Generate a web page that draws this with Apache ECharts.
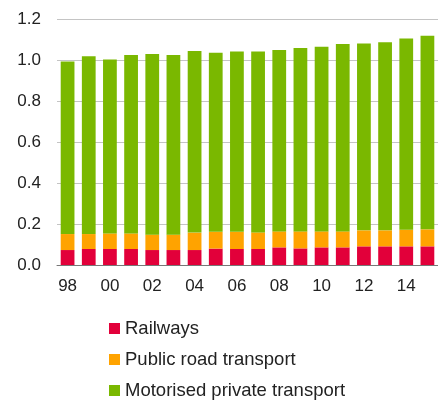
<!DOCTYPE html>
<html>
<head>
<meta charset="utf-8">
<script src="https://cdn.jsdelivr.net/npm/echarts@6/dist/echarts.min.js"></script>
<style>
  html, body { margin: 0; padding: 0; background: #fff; }
  #chart { width: 438px; height: 401px; }
</style>
</head>
<body>
<div id="chart"></div>
<script>
// years shown as two digits on the axis
var years = ['98', '99', '00', '01', '02', '03', '04', '05', '06',
             '07', '08', '09', '10', '11', '12', '13', '14', '15'];

var railways = [0.073, 0.078, 0.078, 0.078, 0.073, 0.073, 0.073, 0.080, 0.078,
                0.078, 0.086, 0.081, 0.086, 0.086, 0.091, 0.091, 0.091, 0.091];
var publicRoad = [0.078, 0.073, 0.076, 0.076, 0.075, 0.075, 0.085, 0.082, 0.084,
                  0.081, 0.078, 0.083, 0.078, 0.078, 0.078, 0.078, 0.081, 0.083];
var privateMotor = [0.842, 0.867, 0.849, 0.870, 0.881, 0.876, 0.886, 0.873, 0.880,
                    0.883, 0.885, 0.895, 0.901, 0.914, 0.912, 0.917, 0.933, 0.944];

var myChart = echarts.init(document.getElementById('chart'));

var font = 'Liberation Sans, Arial, sans-serif';

function barSeries(name, data, color) {
    return {
        name: name,
        type: 'bar',
        stack: 'total',
        barWidth: '65%',
        data: data,
        itemStyle: { color: color },
        emphasis: { disabled: true }
    };
}

var option = {
    animation: false,
    textStyle: { fontFamily: font },
    grid: { left: 57, top: 19, bottom: 136, width: 384 },
    legend: {
        orient: 'vertical',
        left: 109,
        top: 319,
        padding: 0,
        itemWidth: 11,
        itemHeight: 11,
        itemGap: 12,
        icon: 'rect',
        textStyle: { fontSize: 18.5, lineHeight: 18, color: '#222', fontFamily: font }
    },
    xAxis: {
        type: 'category',
        data: years,
        axisTick: { show: false },
        axisLine: { lineStyle: { color: '#777', width: 1 } },
        axisLabel: { interval: 1, fontSize: 17, color: '#222', margin: 13, fontFamily: font }
    },
    yAxis: {
        type: 'value',
        min: 0,
        max: 1.2,
        interval: 0.2,
        axisLabel: {
            fontSize: 17, color: '#222', margin: 16, fontFamily: font,
            formatter: function (v) { return v.toFixed(1); }
        },
        splitLine: { lineStyle: { color: '#c4c4c4', width: 1 } }
    },
    series: [
        barSeries('Railways', railways, '#e2003a'),
        barSeries('Public road transport', publicRoad, '#ffa300'),
        barSeries('Motorised private transport', privateMotor, '#7ab800')
    ]
};

myChart.setOption(option);
</script>
</body>
</html>
